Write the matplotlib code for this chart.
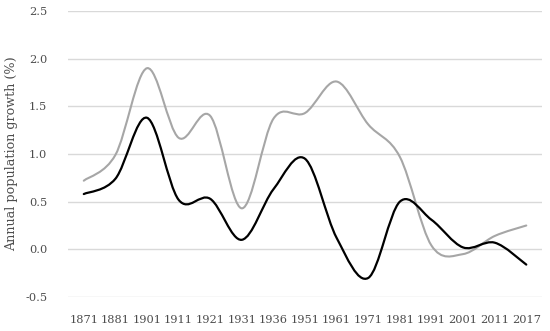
import numpy as np
import matplotlib
matplotlib.use("Agg")
import matplotlib.pyplot as plt
from matplotlib.path import Path
from matplotlib.patches import PathPatch

years = ["1871", "1881", "1901", "1911", "1921", "1931", "1936", "1951",
         "1961", "1971", "1981", "1991", "2001", "2011", "2017"]
gray_series = [0.72, 0.99, 1.90, 1.17, 1.40, 0.43, 1.37, 1.43,
               1.76, 1.31, 0.97, 0.04, -0.05, 0.14, 0.25]
black_series = [0.58, 0.74, 1.38, 0.52, 0.53, 0.10, 0.63, 0.95,
                0.12, -0.30, 0.50, 0.31, 0.02, 0.07, -0.16]
yticks = [-0.5, 0.0, 0.5, 1.0, 1.5, 2.0, 2.5]


def smooth_path(xs, ys):
    xs = np.asarray(xs, float)
    ys = np.asarray(ys, float)
    n = len(xs)
    verts = [(xs[0], ys[0])]
    codes = [Path.MOVETO]
    for i in range(n - 1):
        p0 = np.array([xs[max(i - 1, 0)], ys[max(i - 1, 0)]])
        p1 = np.array([xs[i], ys[i]])
        p2 = np.array([xs[i + 1], ys[i + 1]])
        p3 = np.array([xs[min(i + 2, n - 1)], ys[min(i + 2, n - 1)]])
        c1 = p1 + (p2 - p0) / 6.0
        c2 = p2 - (p3 - p1) / 6.0
        verts += [tuple(c1), tuple(c2), tuple(p2)]
        codes += [Path.CURVE4] * 3
    return Path(verts, codes)


plt.rcParams['font.family'] = ['DejaVu Serif']
fig = plt.figure(figsize=(5.5, 3.31), dpi=100)
ax = fig.add_axes([0.1236, 0.1027, 0.862, 0.8641])

x = np.arange(len(years))
for series, color, lw in [(gray_series, "#a6a6a6", 1.5), (black_series, "#000000", 1.6)]:
    patch = PathPatch(smooth_path(x, series), facecolor="none", edgecolor=color,
                      linewidth=lw, capstyle="round", joinstyle="round", zorder=3)
    ax.add_patch(patch)

ax.set_xlim(-0.5, len(years) - 0.5)
ax.set_ylim(-0.5, 2.5)
ax.set_xticks(x)
ax.set_xticklabels(years)
ax.set_yticks(yticks)
ax.set_yticklabels([f"{v:.1f}" for v in yticks])
ax.grid(axis="y", color="#d9d9d9", linewidth=1.0)
ax.set_axisbelow(True)
for s in ax.spines.values():
    s.set_visible(False)
ax.tick_params(axis="both", length=0, labelsize=8.2, colors="#4d4d4d")
ax.tick_params(axis="x", pad=13)
ax.tick_params(axis="y", pad=15)
ax.set_ylabel("Annual population growth (%)", fontsize=9.2, color="#4d4d4d")
ax.yaxis.set_label_coords(-0.12, 0.5)
ax.yaxis.label.set_verticalalignment("center")

fig.savefig("out.png", dpi=100)
